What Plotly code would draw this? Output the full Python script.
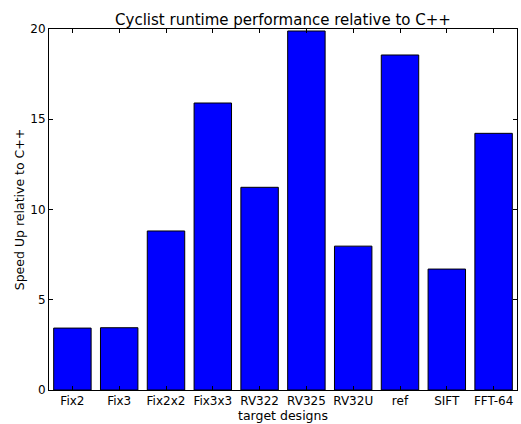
import plotly.graph_objects as go

designs = ["Fix2", "Fix3", "Fix2x2", "Fix3x3", "RV322", "RV325", "RV32U", "ref", "SIFT", "FFT-64"]
speedups = [3.43, 3.45, 8.81, 15.9, 11.23, 19.89, 7.97, 18.56, 6.70, 14.22]
y_ticks = [0, 5, 10, 15, 20]

font = "DejaVu Sans"
fig = go.Figure(go.Bar(
    x=designs, y=speedups,
    marker=dict(color="#0000FF", line=dict(color="black", width=1)),
    width=0.8,
))
fig.update_layout(
    width=521, height=424,
    margin=dict(l=49, r=4, t=29, b=34),
    paper_bgcolor="white", plot_bgcolor="white",
    font=dict(family=font, size=12, color="black"),
    title=dict(text="Cyclist runtime performance relative to C++", x=0.5, xref="paper",
               xanchor="center", y=1, yref="paper", yanchor="bottom", pad=dict(b=4),
               font=dict(size=15, family=font, color="black")),
    showlegend=False,
)
fig.update_xaxes(
    range=[-0.5, 9.5], showline=True, linecolor="black", linewidth=1, mirror="ticks",
    ticks="inside", ticklen=4, tickcolor="black", showgrid=False,
    title=dict(text="target designs", standoff=1, font=dict(size=12.5)),
)
fig.update_yaxes(
    range=[0, 20], tickvals=y_ticks, showline=True, linecolor="black", linewidth=1, mirror="ticks",
    ticks="inside", ticklen=4, tickcolor="black", showgrid=False, zeroline=False,
    title=dict(text="Speed Up relative to C++", standoff=2, font=dict(size=12.5)),
)
fig.write_html("out.html")
